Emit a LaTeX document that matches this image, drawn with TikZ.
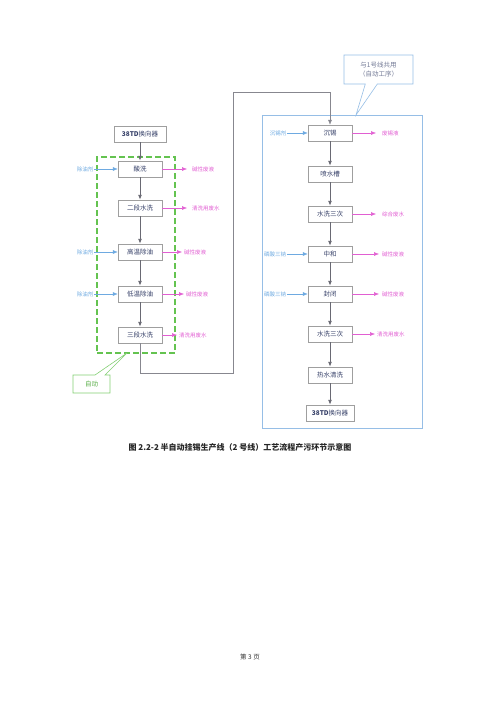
\documentclass[tikz,border=0pt]{standalone}
\usepackage{fontspec}
\setmainfont{Noto Sans CJK SC}
\usepackage{xcolor}
\usetikzlibrary{arrows.meta,positioning,shapes.callouts}

\definecolor{flowgray}{RGB}{105,105,115}
\definecolor{inblue}{RGB}{110,170,225}
\definecolor{outpink}{RGB}{225,95,210}
\definecolor{zonegreen}{RGB}{100,195,80}
\definecolor{zoneblue}{RGB}{150,190,230}
\definecolor{boxtext}{RGB}{55,65,105}

\begin{document}
\begin{tikzpicture}[x=1pt, y=-1pt,
    stage/.style={draw=gray!75, fill=white, align=center, minimum width=44pt, minimum height=16pt, inner sep=1pt, font=\fontsize{6.5}{7}\selectfont, text=boxtext},
    inlab/.style={font=\fontsize{5.5}{6}\selectfont, text=inblue, inner sep=1pt},
    outlab/.style={font=\fontsize{5.5}{6}\selectfont, text=outpink, inner sep=1pt},
    flow/.style={-{Latex[length=5pt,width=4pt]}, draw=flowgray, line width=0.9pt},
    link/.style={-{Latex[length=5pt,width=4pt]}, draw=flowgray!80, line width=0.5pt},
    feed/.style={-{Latex[length=5pt,width=4pt]}, draw=inblue, line width=0.5pt},
    waste/.style={-{Latex[length=5pt,width=4pt]}, draw=outpink, line width=0.5pt}
]
\useasboundingbox (0,0) rectangle (500,707);

% zones
\node[color=zonegreen, draw, dash pattern=on 6pt off 3pt, line width=1.1pt, minimum width=78pt, minimum height=196pt, inner sep=0pt] (autozone) at (136,255) {};
\node[draw=zoneblue, line width=0.8pt, minimum width=160pt, minimum height=313pt, inner sep=0pt] (sharezone) at (342,271.5) {};

% left line (semi-auto)
\node[stage, minimum width=52pt] (lstart) at (140,134) {\textbf{38TD}换向器};
\node[stage] (acid) at (140,169) {酸洗};
\node[stage] (rinsetwo) at (140,208) {二段水洗};
\node[stage] (hotdeg) at (140,252) {高温除油};
\node[stage] (colddeg) at (140,294) {低温除油};
\node[stage] (rinsethree) at (140,335) {三段水洗};

\node[inlab] (acidin) at (85,169) {除油剂};
\node[inlab] (hotin) at (85,252) {除油剂};
\node[inlab] (coldin) at (85,294) {除油剂};

\node[outlab, anchor=west] (acidout) at (191,169) {碱性废液};
\node[outlab, anchor=west] (rinsetwoout) at (191,208) {清洗用废水};
\node[outlab, anchor=west] (hotout) at (183,252) {碱性废液};
\node[outlab, anchor=west] (coldout) at (185,294) {碱性废液};
\node[outlab, anchor=west] (rinsethreeout) at (178,335) {清洗用废水};

\draw[flow] (lstart) -- (acid);
\draw[flow] (acid) -- (rinsetwo);
\draw[flow] (rinsetwo) -- (hotdeg);
\draw[flow] (hotdeg) -- (colddeg);
\draw[flow] (colddeg) -- (rinsethree);

\draw[feed] (acidin) -- (acid);
\draw[feed] (hotin) -- (hotdeg);
\draw[feed] (coldin) -- (colddeg);

\draw[waste] (acid) -- ([xshift=-4pt]acidout.west);
\draw[waste] (rinsetwo) -- ([xshift=-4pt]rinsetwoout.west);
\draw[waste] (hotdeg) -- ([xshift=-1pt]hotout.west);
\draw[waste] (colddeg) -- ([xshift=-1pt]coldout.west);
\draw[waste] (rinsethree) -- ([xshift=-1pt]rinsethreeout.west);

% right line (shared with line 1)
\node[stage] (tin) at (330,133) {沉锡};
\node[stage] (spray) at (330,174) {喷水槽};
\node[stage] (rinsea) at (330,214) {水洗三次};
\node[stage] (neutral) at (330,254) {中和};
\node[stage] (seal) at (330,294) {封闭};
\node[stage] (rinseb) at (330,334) {水洗三次};
\node[stage] (hotrinse) at (330,375) {热水清洗};
\node[stage, minimum width=48pt] (rend) at (330,413) {\textbf{38TD}换向器};

\node[inlab] (tinin) at (278,133) {沉锡剂};
\node[inlab] (neutralin) at (275,254) {磷酸三钠};
\node[inlab] (sealin) at (275,294) {磷酸三钠};

\node[outlab, anchor=west] (tinout) at (381,133) {废锡液};
\node[outlab, anchor=west] (rinseaout) at (381,214) {综合废水};
\node[outlab, anchor=west] (neutralout) at (381,254) {碱性废液};
\node[outlab, anchor=west] (sealout) at (381,294) {碱性废液};
\node[outlab, anchor=west] (rinsebout) at (376,334) {清洗用废水};

\draw[flow] (tin) -- (spray);
\draw[flow] (spray) -- (rinsea);
\draw[flow] (rinsea) -- (neutral);
\draw[flow] (neutral) -- (seal);
\draw[flow] (seal) -- (rinseb);
\draw[flow] (rinseb) -- (hotrinse);
\draw[flow] (hotrinse) -- (rend);

\draw[feed] (tinin) -- (tin);
\draw[feed] (neutralin) -- (neutral);
\draw[feed] (sealin) -- (seal);

\draw[waste] (tin) -- ([xshift=-5pt]tinout.west);
\draw[waste] (rinsea) -- ([xshift=-5pt]rinseaout.west);
\draw[waste] (neutral) -- ([xshift=-2pt]neutralout.west);
\draw[waste] (seal) -- ([xshift=-2pt]sealout.west);
\draw[waste] (rinseb) -- ([xshift=-1pt]rinsebout.west);

% hand-over from left line to right line
\coordinate (lowturn) at (233,373);
\coordinate (highturn) at (233,92);
\draw[link] (rinsethree) |- (lowturn) -- (highturn) -| (tin);

% callouts
\coordinate (sharetip) at (356,115);
\node[rectangle callout, draw=zoneblue, fill=white, line width=0.6pt, callout absolute pointer={(sharetip)}, callout pointer width=12pt,
      minimum width=69pt, minimum height=29pt, align=center, text=boxtext!70, font=\fontsize{6.5}{9}\selectfont] (sharenote) at (378.5,69.5)
      {与1号线共用\\（自动工序）};
\coordinate (autotip) at (127,353);
\node[rectangle callout, draw=zonegreen!80, fill=white, line width=0.6pt, callout absolute pointer={(autotip)}, callout pointer width=10pt,
      minimum width=37pt, minimum height=18pt, text=zonegreen!90!black, font=\fontsize{6.5}{7}\selectfont] (autonote) at (91.5,384) {自动};

% caption and page number
\node[font=\bfseries\fontsize{8}{9}\selectfont, text=black!85] (caption) at (240,447)
      {图 2.2-2 半自动挂锡生产线（2 号线）工艺流程产污环节示意图};
\node[font=\fontsize{6.5}{7}\selectfont, text=black!80] (pageno) at (250,657) {第 3 页};
\end{tikzpicture}
\end{document}
